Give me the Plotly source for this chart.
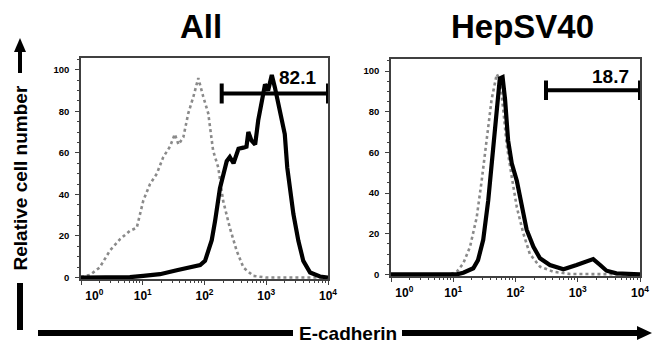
import math
import plotly.graph_objects as go

# ---------------- data (fluorescence intensity, % of max) ----------------
all_stain_x = [1, 3.2, 6.2, 10.2, 19, 35.5, 58.6, 85, 102, 115, 131, 148, 167, 178, 229, 257, 295,
               309, 355, 427, 479, 513, 575, 661, 741, 851, 955, 1072, 1230, 1380, 1660, 1995,
               2188, 2399, 2754, 3311, 3981, 5129, 7413, 10000]
all_stain_y = [0, 0, 0.2, 0.8, 1.6, 3.5, 4.8, 6, 8, 13, 18, 27, 37, 43, 56, 58, 55,
               57, 62, 62.5, 63, 70, 66, 64, 75.6, 85, 93, 90, 97.5, 91.5, 79, 69,
               53, 43, 30.5, 17.7, 8, 2.4, 0.5, 0]

all_ctrl_x = [1, 1.4, 2.0, 2.95, 4.3, 6.2, 8.0, 10.2, 13.1, 16.9, 21.5, 27.6, 33, 38, 45.4, 54.6,
              66, 79.4, 95.5, 115, 138, 167, 200, 257, 331, 427, 617, 1000, 10000]
all_ctrl_y = [0.3, 1.3, 4.8, 13, 18.5, 22.5, 24, 37, 45, 50, 58, 63, 69, 64, 67.5, 79,
              87, 96, 87, 79, 61, 53, 37, 24, 13, 4.8, 0.8, 0, 0]

hep_stain_x = [1, 11.4, 14.5, 21, 25, 30.3, 36.5, 43.9, 50, 56, 62, 68, 76, 87, 105, 126, 151,
               194, 247, 357, 589, 958, 1387, 1770, 2289, 2900, 4170, 6918, 10000]
hep_stain_y = [0, 0, 0.8, 3, 7, 17, 36.5, 61, 81, 96.4, 97, 86, 66, 54.6, 46, 33, 22,
               13.6, 7.9, 4.6, 2.5, 4.6, 6.2, 7.5, 4.6, 1.8, 0.5, 0, 0]

hep_ctrl_x = [1, 8.9, 11.4, 14.5, 18.6, 23.8, 28.6, 34.4, 41.3, 50, 56, 63.6, 72, 87, 105, 134,
              170, 247, 405, 755, 10000]
hep_ctrl_y = [0, 0, 1.3, 5.4, 13.6, 28, 46, 66, 86, 98.5, 95.6, 81, 64, 48, 33, 20,
              10, 3.8, 1.3, 0.2, 0]

panel_titles = ["All", "HepSV40"]
gate_lo = [190, 309]
gate_hi = [10000, 10000]
gate_y = [88.6, 90.6]
gate_pct = ["82.1", "18.7"]
gate_label_x = [3236, 3311]
gate_label_y = [96.5, 97.5]

y_ticks = [0, 20, 40, 60, 80, 100]
x_ticks = [1, 10, 100, 1000, 10000]
x_ticktext = ["&nbsp;" * 8 + "10<sup>0</sup>", "10<sup>1</sup>", "10<sup>2</sup>",
              "10<sup>3</sup>", "10<sup>4</sup>"]

# ---------------- figure ----------------
W, H = 652, 343
def PX(p):
    return p / W
def PY(p):
    return 1 - p / H

FONT = "Liberation Sans, Arial, sans-serif"
fig = go.Figure()

series = [(all_stain_x, all_stain_y, all_ctrl_x, all_ctrl_y),
          (hep_stain_x, hep_stain_y, hep_ctrl_x, hep_ctrl_y)]

for i, (sx, sy, cx, cy) in enumerate(series):
    xa = "x" if i == 0 else "x2"
    ya = "y" if i == 0 else "y2"
    fig.add_trace(go.Scatter(x=cx, y=cy, mode="lines", xaxis=xa, yaxis=ya,
                             line=dict(color="#8a8a8a", width=2.6, dash="dot"),
                             cliponaxis=False, showlegend=False, hoverinfo="skip"))
    fig.add_trace(go.Scatter(x=sx, y=sy, mode="lines", xaxis=xa, yaxis=ya,
                             line=dict(color="black", width=4.2),
                             cliponaxis=False, showlegend=False, hoverinfo="skip"))
    c = 4.8
    lo, hi, gy = gate_lo[i], gate_hi[i], gate_y[i]
    fig.add_trace(go.Scatter(x=[lo, lo, None, lo, hi, None, hi, hi],
                             y=[gy - c, gy + c, None, gy, gy, None, gy - c, gy + c],
                             mode="lines", xaxis=xa, yaxis=ya,
                             line=dict(color="black", width=4),
                             cliponaxis=False, showlegend=False, hoverinfo="skip"))
    fig.add_annotation(x=math.log10(gate_label_x[i]), y=gate_label_y[i], xref=xa, yref=ya,
                       text=gate_pct[i], showarrow=False,
                       font=dict(family=FONT, size=19, color="black", weight="bold"),
                       xanchor="center", yanchor="middle")

axis_common = dict(showline=True, linecolor="#404040", linewidth=1.5, mirror=True,
                   showgrid=False, zeroline=False, ticks="outside", ticklen=4,
                   tickcolor="#404040", tickwidth=1.2, automargin=False)

xdom = [[PX(81), PX(328)], [PX(391), PX(640)]]
ydom = [[PY(279.2), PY(57.7)], [PY(276), PY(59.3)]]
minor_x = [k * 10 ** d for d in range(4) for k in range(2, 10)]

for i in range(2):
    xname = "xaxis" if i == 0 else "xaxis2"
    yname = "yaxis" if i == 0 else "yaxis2"
    fig.layout[xname] = dict(axis_common, type="log", range=[0, 4], domain=xdom[i],
                             anchor="y" if i == 0 else "y2",
                             tickmode="array", tickvals=x_ticks, ticktext=x_ticktext,
                             tickfont=dict(family=FONT, size=12, color="black", weight="bold"),
                             ticklabelstandoff=1,
                             minor=dict(tickmode="array", tickvals=minor_x, ticks="outside",
                                        ticklen=2.5, tickcolor="#404040", showgrid=False))
    fig.layout[yname] = dict(axis_common, range=[-0.8, 105.8], domain=ydom[i],
                             anchor="x" if i == 0 else "x2",
                             tickmode="array", tickvals=y_ticks,
                             tickfont=dict(family=FONT, size=9.5, color="black", weight="bold"),
                             ticklabelstandoff=4,
                             minor=dict(dtick=5, ticks="outside", ticklen=2.5,
                                        tickcolor="#404040", showgrid=False))

# panel titles
for i, (cxp, cyp) in enumerate([(201, 27), (522, 27)]):
    fig.add_annotation(x=PX(cxp), y=PY(cyp), xref="paper", yref="paper",
                       text=panel_titles[i], showarrow=False,
                       font=dict(family=FONT, size=33, color="black", weight="bold"),
                       xanchor="center", yanchor="middle")

# axis titles
fig.add_annotation(x=PX(20), y=PY(178.5), xref="paper", yref="paper",
                   text="Relative cell number", textangle=-90, showarrow=False,
                   font=dict(family=FONT, size=19, color="black", weight="bold"),
                   xanchor="center", yanchor="middle")
fig.add_annotation(x=PX(348), y=PY(333), xref="paper", yref="paper",
                   text="E-cadherin", showarrow=False,
                   font=dict(family=FONT, size=19, color="black", weight="bold"),
                   xanchor="center", yanchor="middle")

shapes = [
    dict(type="line", x0=PX(20), x1=PX(20), y0=PY(73), y1=PY(50), line=dict(color="black", width=4)),
    dict(type="path", path=f"M {PX(20)} {PY(38)} L {PX(14)} {PY(52)} L {PX(26)} {PY(52)} Z",
         fillcolor="black", line=dict(width=0)),
    dict(type="line", x0=PX(20), x1=PX(20), y0=PY(283), y1=PY(330), line=dict(color="black", width=6)),
    dict(type="line", x0=PX(38), x1=PX(293), y0=PY(333), y1=PY(333), line=dict(color="black", width=6)),
    dict(type="line", x0=PX(402), x1=PX(640), y0=PY(333), y1=PY(333), line=dict(color="black", width=6)),
    dict(type="path", path=f"M {PX(652)} {PY(333)} L {PX(637)} {PY(326)} L {PX(637)} {PY(340)} Z",
         fillcolor="black", line=dict(width=0)),
]
for s in shapes:
    s.update(xref="paper", yref="paper", layer="above")
fig.update_layout(shapes=shapes)

fig.update_layout(width=W, height=H, margin=dict(l=0, r=0, t=0, b=0, autoexpand=False),
                  paper_bgcolor="white", plot_bgcolor="white", showlegend=False)

fig.write_html("out.html", config={"displayModeBar": False},
               post_script="document.body.style.margin='0px';document.body.style.padding='0px';"
                           "document.documentElement.style.overflow='hidden';")
